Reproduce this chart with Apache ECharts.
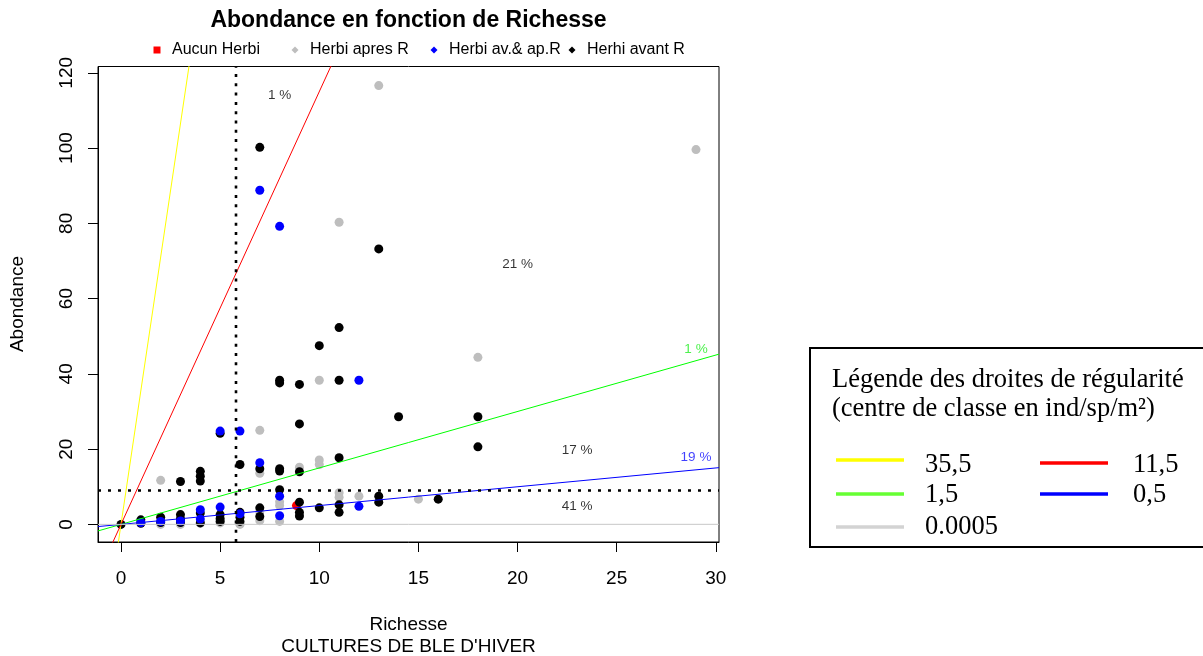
<!DOCTYPE html>
<html><head><meta charset="utf-8">
<script src="https://cdn.jsdelivr.net/npm/echarts@6/dist/echarts.min.js"></script>
<style>html,body{margin:0;padding:0;background:#fff}#c{width:1203px;height:656px}</style>
</head><body><div id="c"></div>
<script>
// ---- data ----
const xTicks = [0, 5, 10, 15, 20, 25, 30];
const yTicks = [0, 20, 40, 60, 80, 100, 120];
const xRange = [-1.16, 30.16];
const yRange = [-4.68, 121.68];

const aucunHerbi = [[8.85, 5.0]];
const herbiApresR = [
  [13,116.6],[29,99.6],[11,80.3],[18,44.4],[10,38.3],[7,25],[2,11.7],[9,15.2],[10,17.1],[10,15.9],
  [7,13.6],[11,8.4],[11,7.2],[12,7.5],[15,6.7],[8,6.0],[8,5.0],[8,0.8],[7,1.0],[7,3.4],[6,0],[3,0],
  [2,0],[4,0.3],[9,2.4],[5,0.4],[6,0.2]
];
const herhiAvantR = [
  [7,100.2],[13,73.2],[11,52.3],[10,47.5],[8,38.3],[8,37.6],[9,37.2],[11,38.3],[14,28.6],[18,28.6],
  [18,20.6],[9,26.7],[6,15.9],[7,14.8],[8,14.8],[8,14.2],[9,14.0],[11,17.7],[4,14.1],[4,12.8],
  [4,11.5],[3,11.4],[0,0],[1,1.2],[1,0.3],[2,1.9],[2,0.5],[3,2.6],[3,1.5],[3,0.5],[4,3.0],[4,0.4],
  [5,2.6],[5,1.5],[5,0.8],[6,3.2],[6,1.9],[6,0.8],[7,4.4],[7,2.1],[8,9.2],[9,5.9],[9,3.2],[9,2.2],
  [10,4.4],[11,5.2],[11,3.2],[13,7.5],[13,5.9],[16,6.7],[5,24.2]
];
const herbiAvApR = [
  [7,88.8],[8,79.2],[12,38.3],[5,24.8],[6,24.8],[7,16.4],[8,7.5],[8,2.3],[12,4.8],[4,3.9],[4,1.4],
  [5,4.6],[6,2.8],[1,0.5],[2,0.8],[3,0.9]
];
const slopes = [35.5, 11.5, 1.5, 0.5, 0.0005];
const slopeLabels = ['35,5', '11,5', '1,5', '0,5', '0.0005'];
const meanRichesse = 5.8;
const meanAbondance = 9.0;
const pctLabels = ['1 %', '21 %', '1 %', '17 %', '19 %', '41 %'];
const pctX = [8, 20, 29, 23, 29, 23];
const pctY = [114, 69.2, 46.6, 19.8, 17.8, 4.7];

// ---- styles ----
const slopeColors = ['#ffff00', '#ff0000', '#00ff00', '#0000ff', '#c8c8c8'];
const pctColors = ['#000', '#000', '#22ee22', '#000', '#1111ff', '#000'];
const boxLineColors = ['#ffff00', '#ff0000', '#66ff33', '#0000ff', '#d3d3d3'];
const SANS = '"Liberation Sans", Arial, sans-serif';
const SERIF = '"Liberation Serif", "Times New Roman", serif';

const chart = echarts.init(document.getElementById('c'), null, {renderer: 'canvas'});

const series = [];
function scat(name, data, color) {
  series.push({type: 'scatter', name, data, symbol: 'circle', symbolSize: 9,
    itemStyle: {color, opacity: 1}, emphasis: {disabled: true}, z: 2});
}
scat('Herbi apres R', herbiApresR, '#bebebe');
scat('Aucun Herbi', aucunHerbi, '#ff0000');
scat('Herhi avant R', herhiAvantR, '#000000');
scat('Herbi av.& ap.R', herbiAvApR, '#0000ff');

slopes.forEach((s, i) => {
  series.push({type: 'line', data: [[xRange[0], s * xRange[0]], [xRange[1], s * xRange[1]]],
    symbol: 'none', silent: true, clip: true, z: 3,
    lineStyle: {color: slopeColors[i], width: 1}});
});
series.push({type: 'line', data: [[meanRichesse, yRange[0]], [meanRichesse, yRange[1]]],
  symbol: 'none', silent: true, clip: true, z: 4,
  lineStyle: {color: '#000', width: 2.6, type: [3, 6.3]}});
series.push({type: 'line', data: [[xRange[0], meanAbondance], [xRange[1], meanAbondance]],
  symbol: 'none', silent: true, clip: true, z: 4,
  lineStyle: {color: '#000', width: 2.6, type: [3, 7]}});
series.push({type: 'scatter', symbolSize: 0, silent: true, z: 5,
  data: pctX.map((x, i) => ({value: [x, pctY[i]],
    label: {show: true, position: 'inside', formatter: pctLabels[i], color: pctColors[i],
      fontSize: 13.5, fontFamily: SANS}}))});

function legendAt(name, icon, color, center) {
  return {show: true, left: center - 3.5, top: 42, padding: 0, itemWidth: 7, itemHeight: 7,
    selectedMode: false, data: [{name, icon, itemStyle: {color}}],
    textStyle: {fontSize: 16, fontFamily: SANS, color: '#000', padding: [0, 0, 0, 6.5]}};
}

const boxX = 810, boxY = 348;
const graphic = [
  {type: 'text', x: 408.5, y: 21, style: {text: 'Abondance en fonction de Richesse',
    font: 'bold 23px ' + SANS, fill: '#000', textAlign: 'center', textVerticalAlign: 'middle'}},
  {type: 'text', x: 408.5, y: 625, style: {text: 'Richesse', font: '19px ' + SANS, fill: '#000',
    textAlign: 'center', textVerticalAlign: 'middle'}},
  {type: 'text', x: 408.5, y: 647, style: {text: "CULTURES DE BLE D'HIVER", font: '19px ' + SANS,
    fill: '#000', textAlign: 'center', textVerticalAlign: 'middle'}},
  {type: 'text', x: 18, y: 304, rotation: Math.PI / 2, style: {text: 'Abondance', font: '19px ' + SANS,
    fill: '#000', textAlign: 'center', textVerticalAlign: 'middle'}},
  {type: 'rect', shape: {x: boxX, y: boxY, width: 400, height: 199},
    style: {fill: '#fff', stroke: '#000', lineWidth: 2}},
  {type: 'text', x: 832, y: 380, style: {text: 'Légende des droites de régularité',
    font: '26.5px ' + SERIF, fill: '#000', textVerticalAlign: 'middle'}},
  {type: 'text', x: 832, y: 409, style: {text: '(centre de classe en ind/sp/m²)',
    font: '26.5px ' + SERIF, fill: '#000', textVerticalAlign: 'middle'}}
];
const boxPos = [[836, 460, 925, 465], [1040, 463, 1133, 465], [836, 494, 925, 495],
  [1040, 494, 1133, 495], [836, 527, 925, 527]];
slopeLabels.forEach((t, i) => {
  const p = boxPos[i];
  graphic.push({type: 'line', shape: {x1: p[0], y1: p[1], x2: p[0] + 68, y2: p[1]},
    style: {stroke: boxLineColors[i], lineWidth: 3.5}});
  graphic.push({type: 'text', x: p[2], y: p[3], style: {text: t, font: '26.5px ' + SERIF,
    fill: '#000', textVerticalAlign: 'middle'}});
});

chart.setOption({
  animation: false,
  backgroundColor: '#fff',
  grid: {left: 98, top: 66.5, right: 484, bottom: 114, show: true, borderColor: '#000',
    borderWidth: 1, backgroundColor: 'transparent', containLabel: false, outerBoundsMode: 'none'},
  legend: [
    legendAt('Aucun Herbi', 'rect', '#ff0000', 157),
    legendAt('Herbi apres R', 'diamond', '#bebebe', 295),
    legendAt('Herbi av.& ap.R', 'diamond', '#0000ff', 434),
    legendAt('Herhi avant R', 'diamond', '#000000', 572)
  ],
  xAxis: {type: 'value', min: xRange[0], max: xRange[1], splitLine: {show: false},
    axisLine: {show: true, onZero: false, lineStyle: {color: '#000', width: 1}},
    axisTick: {show: true, length: 10, inside: false, customValues: xTicks, lineStyle: {color: '#000'}},
    axisLabel: {customValues: xTicks, margin: 27, fontSize: 19, fontFamily: SANS, color: '#000'}},
  yAxis: {type: 'value', min: yRange[0], max: yRange[1], splitLine: {show: false},
    axisLine: {show: true, onZero: false, lineStyle: {color: '#000', width: 1}},
    axisTick: {show: true, length: 10, inside: false, customValues: yTicks, lineStyle: {color: '#000'}},
    axisLabel: {customValues: yTicks, margin: 22, rotate: 90, fontSize: 19, fontFamily: SANS, color: '#000'}},
  series,
  graphic
});
</script></body></html>
